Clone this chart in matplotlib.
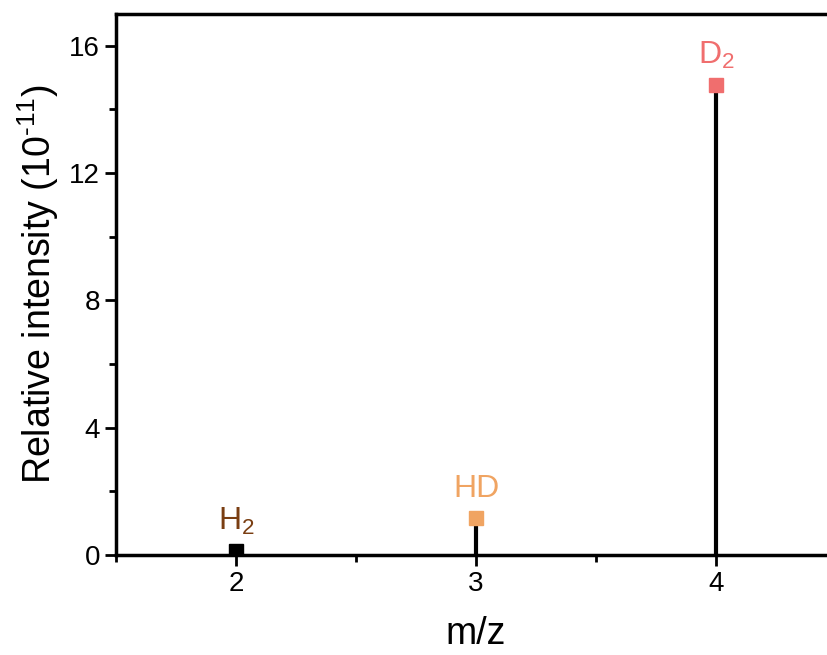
import matplotlib.pyplot as plt
from matplotlib.ticker import MultipleLocator

plt.rcParams['font.family'] = ['Liberation Sans', 'DejaVu Sans']
plt.rcParams['mathtext.fontset'] = 'custom'
plt.rcParams['mathtext.rm'] = 'Liberation Sans'
plt.rcParams['mathtext.default'] = 'regular'
plt.rcParams['axes.unicode_minus'] = False

mz = [2, 3, 4]
intensity = [0.13, 1.16, 14.78]
species = ['H$_2$', 'HD', 'D$_2$']
marker_colors = ['#000000', '#f0a462', '#f06e6e']
label_colors = ['#7a3e12', '#f0a462', '#f06e6e']

fig = plt.figure(figsize=(8.27, 6.55), dpi=100)
ax = fig.add_axes([116 / 827, 100 / 655, 720 / 827, 541 / 655])

for x, y, name, mc, lc in zip(mz, intensity, species, marker_colors, label_colors):
    ax.vlines(x, 0, y, color='black', lw=3)
    ax.plot(x, y, 's', color=mc, ms=10, zorder=3)
    ax.annotate(name, (x, y), xytext=(0, 10), textcoords='offset points',
                ha='center', va='bottom', color=lc, fontsize=23)

ax.set_xlim(1.5, 4.5)
ax.set_ylim(0, 17)
ax.xaxis.set_major_locator(MultipleLocator(1))
ax.xaxis.set_minor_locator(MultipleLocator(0.5))
ax.yaxis.set_major_locator(MultipleLocator(4))
ax.yaxis.set_minor_locator(MultipleLocator(2))
ax.tick_params(which='both', direction='out', width=2, labelsize=20)
ax.tick_params(which='major', length=8)
ax.tick_params(which='minor', length=5)
for s in ax.spines.values():
    s.set_linewidth(2.5)

ax.set_xlabel('m/z', fontsize=27, labelpad=14)
ax.set_ylabel(r'Relative intensity (10$^{\text{-11}}$)', fontsize=27, labelpad=6)

fig.savefig('out.png', dpi=100)
